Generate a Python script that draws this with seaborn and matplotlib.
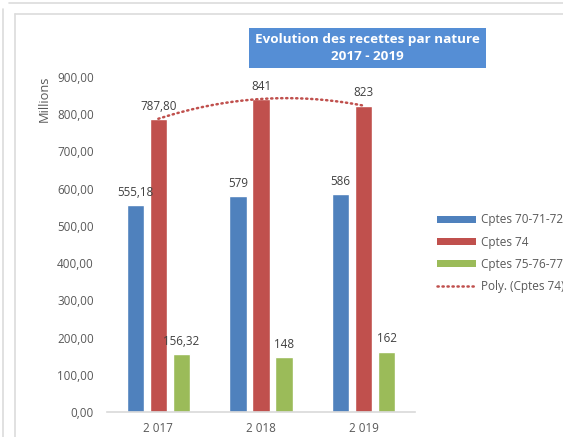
import numpy as np
import pandas as pd
import seaborn as sns
import matplotlib.pyplot as plt
from matplotlib.patches import Rectangle, Patch
from matplotlib.lines import Line2D

years = ["2 017", "2 018", "2 019"]
series_names = ["Cptes 70-71-72", "Cptes 74", "Cptes 75-76-77"]
cptes_70_71_72 = [555.18, 579, 586]
cptes_74 = [787.80, 841, 823]
cptes_75_76_77 = [156.32, 148, 162]
value_labels = {
    "Cptes 70-71-72": ["555,18", "579", "586"],
    "Cptes 74": ["787,80", "841", "823"],
    "Cptes 75-76-77": ["156,32", "148", "162"],
}
y_ticks = [0, 100, 200, 300, 400, 500, 600, 700, 800, 900]
y_tick_labels = ["0,00", "100,00", "200,00", "300,00", "400,00", "500,00",
                 "600,00", "700,00", "800,00", "900,00"]
trend_label = "Poly. (Cptes 74)"

colors = ["#4f81bd", "#c0504d", "#9bbb59"]

sns.set_theme(style="white")
plt.rcParams["font.family"] = ["Open Sans", "DejaVu Sans"]

df = pd.DataFrame({
    "year": years * 3,
    "series": [s for s in series_names for _ in years],
    "value": cptes_70_71_72 + cptes_74 + cptes_75_76_77,
})

W, H = 563, 437
fig = plt.figure(figsize=(W / 100, H / 100), dpi=100)
fig.patch.set_facecolor("white")

def px_box(l, t, r, b):
    return [l / W, 1 - b / H, (r - l) / W, (b - t) / H]

ax = fig.add_axes(px_box(107, 77, 415, 412))

sns.barplot(data=df, x="year", y="value", hue="series", hue_order=series_names,
            palette=colors, width=0.672, gap=0.24, ax=ax, legend=False,
            saturation=1, errorbar=None)

# value labels above each bar
for container, name in zip(ax.containers, series_names):
    for bar, txt in zip(container, value_labels[name]):
        ax.annotate(txt, (bar.get_x() + bar.get_width() / 2, bar.get_height()),
                    xytext=(0, 4.5), textcoords="offset points",
                    ha="center", va="bottom", fontsize=8.4, color="#404040")

# second-order polynomial trend on Cptes 74
trend_style = dict(color="#c0504d", lw=1.8, linestyle=(0, (0.5, 1.5)),
                   dash_capstyle="round")
xs = np.arange(len(years))
coef = np.polyfit(xs, cptes_74, 2)
xf = np.linspace(xs[0], xs[-1], 200)
ax.plot(xf, np.polyval(coef, xf), zorder=5, **trend_style)

ax.set_xlim(-0.5, 2.5)
ax.set_ylim(0, 900)
ax.set_yticks(y_ticks)
ax.set_yticklabels(y_tick_labels)
ax.tick_params(axis="both", length=0, labelsize=8.4, labelcolor="#595959")
ax.tick_params(axis="y", pad=9.5)
ax.tick_params(axis="x", pad=7)
ax.set_xlabel("")
ax.set_ylabel("Millions", fontsize=9.3, color="#595959")
ax.yaxis.set_label_coords(-0.182, 0.934)
for side in ["top", "right", "left"]:
    ax.spines[side].set_visible(False)
ax.spines["bottom"].set_color("#d9d9d9")
ax.spines["bottom"].set_linewidth(1.2)
ax.set_facecolor("white")

# title box
fig.patches.append(Rectangle((249 / W, 1 - 68 / H), (486 - 249) / W, 40 / H,
                             transform=fig.transFigure, facecolor="#558ed5",
                             edgecolor="none", zorder=3))
fig.text(367.5 / W, 1 - 47.5 / H, "Evolution des recettes par nature\n2017 - 2019",
         ha="center", va="center", color="white", fontsize=9.7, fontweight="bold",
         linespacing=1.4, zorder=4)

# legend
handles = [Patch(facecolor=c, edgecolor="none") for c in colors]
handles.append(Line2D([0], [0], **trend_style))
fig.legend(handles, series_names + [trend_label], loc="upper left",
           bbox_to_anchor=(437 / W, 1 - 213.5 / H), frameon=False, fontsize=8.5,
           labelcolor="#595959", handlelength=3.3, handleheight=0.5,
           handletextpad=0.42, labelspacing=0.78, borderaxespad=0, borderpad=0)

# window frames
frame = "#dcdcdc"
fig.add_artist(Line2D([9 / W, 1], [1 - 2.5 / H] * 2, color=frame, lw=1.2,
                      transform=fig.transFigure))
fig.add_artist(Line2D([2.5 / W] * 2, [1 - 9 / H, 0], color=frame, lw=1.2,
                      transform=fig.transFigure))
fig.add_artist(Line2D([15 / W, 1], [1 - 14 / H] * 2, color=frame, lw=1.2,
                      transform=fig.transFigure))
fig.add_artist(Line2D([15 / W] * 2, [1 - 14 / H, 0], color=frame, lw=1.2,
                      transform=fig.transFigure))

fig.savefig("out.png", dpi=100)
